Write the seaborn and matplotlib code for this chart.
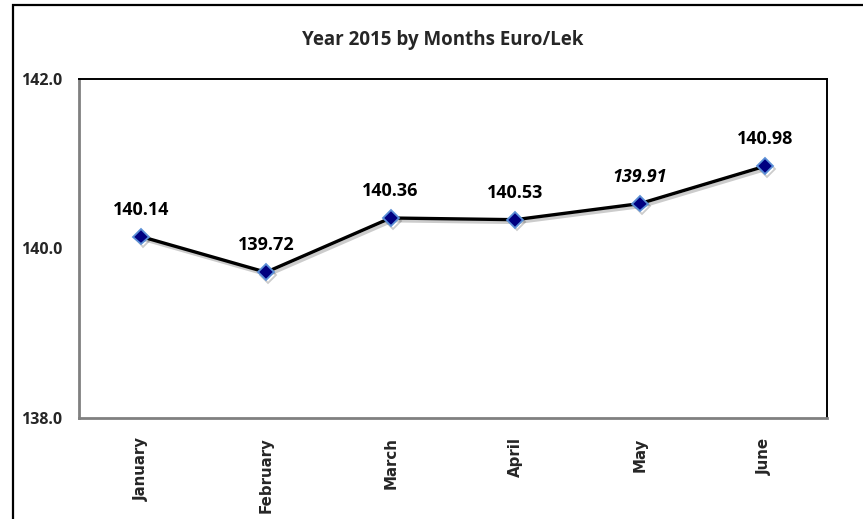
import matplotlib
matplotlib.use("Agg")
import matplotlib.pyplot as plt
import matplotlib.patheffects as pe
import seaborn as sns
import pandas as pd

# data
months = ["January", "February", "March", "April", "May", "June"]
rate = [140.14, 139.72, 140.36, 140.34, 140.53, 140.97]
# labels as printed on the chart (May is italic in the source)
point_labels = ["140.14", "139.72", "140.36", "140.53", "139.91", "140.98"]
italic_label = [False, False, False, False, True, False]
yticks = [138.0, 140.0, 142.0]

df = pd.DataFrame({"month": months, "rate": rate})

sns.set_style("white")
plt.rcParams["font.family"] = ["Open Sans", "DejaVu Sans"]

fig = plt.figure(figsize=(8.63, 5.19), dpi=100)
ax = fig.add_axes([79 / 863, 1 - 418 / 519, (827 - 79) / 863, (418 - 79) / 519])

# outer chart frame (runs off the right and bottom edge)
frame = plt.Rectangle((13 / 863, -0.05), 1.2, 1 - 4.5 / 519 + 0.05,
                      transform=fig.transFigure, fill=False,
                      edgecolor="black", linewidth=1.6, clip_on=False)
fig.patches.append(frame)

sns.lineplot(data=df, x="month", y="rate", ax=ax, color="black", linewidth=2.4,
             marker="D", markersize=8, markerfacecolor="#000080",
             markeredgecolor="#5b8fd6", markeredgewidth=1.3,
             path_effects=[pe.SimpleLineShadow(offset=(1.5, -2), alpha=0.2), pe.Normal()])

for i, (v, lab) in enumerate(zip(rate, point_labels)):
    ax.annotate(lab, (i, v), xytext=(0, 13), textcoords="offset points",
                ha="center", va="bottom", fontsize=13, fontweight="bold",
                fontstyle="italic" if italic_label[i] else "normal", color="black")

ax.set_xlim(-0.5, len(months) - 0.5)
ax.set_ylim(138.0, 142.0)
ax.set_yticks(yticks)
ax.set_yticklabels([f"{t:.1f}" for t in yticks], fontsize=11.5, fontweight="bold")
ax.set_xticks(range(len(months)))
ax.set_xticklabels(months, rotation=90, fontsize=10.8, fontweight="bold", va="top",
                   family="DejaVu Sans")
ax.tick_params(axis="both", length=0)
ax.tick_params(axis="x", pad=14)
ax.tick_params(axis="y", pad=12)
ax.set_xlabel("")
ax.set_ylabel("")
ax.grid(False)

for side in ["top", "right"]:
    ax.spines[side].set_color("black")
    ax.spines[side].set_linewidth(1.4)
for side in ["left", "bottom"]:
    ax.spines[side].set_color("#808080")
    ax.spines[side].set_linewidth(2)

fig.text(443 / 863, 1 - 40 / 519, "Year 2015 by Months Euro/Lek", ha="center",
         va="center", fontsize=13.5, fontweight="bold")

fig.savefig("out.png", dpi=100)
